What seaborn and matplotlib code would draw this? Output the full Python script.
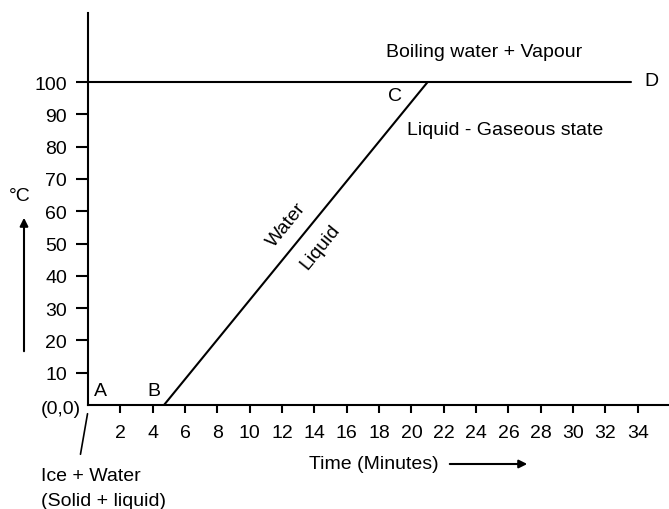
import matplotlib.pyplot as plt
import pandas as pd
import seaborn as sns

# heating curve of water: liquid segment (B -> C) and boiling segment (C -> D)
liquid_time = [4.7, 21.0]
liquid_temp = [0, 100]
boil_time = [0, 33.6]
boil_temp = [100, 100]

x_ticks = list(range(2, 35, 2))
y_ticks = list(range(10, 101, 10))

sns.set_theme(style="ticks")
plt.rcParams["font.family"] = ["Liberation Sans", "DejaVu Sans"]
plt.rcParams["font.size"] = 14
plt.rcParams["text.color"] = "black"

fig = plt.figure(figsize=(6.69, 5.10), dpi=100)
ax = fig.add_axes([88 / 669, 104 / 510, 581 / 669, 392 / 510])

liquid = pd.DataFrame({"time": liquid_time, "temp": liquid_temp})
boil = pd.DataFrame({"time": boil_time, "temp": boil_temp})
sns.lineplot(data=liquid, x="time", y="temp", color="black", lw=1.5, ax=ax)
sns.lineplot(data=boil, x="time", y="temp", color="black", lw=1.5, ax=ax)

ax.set_xlim(0, 35.93)
ax.set_ylim(0, 121.4)
ax.set_xticks(x_ticks)
ax.set_yticks(y_ticks)
ax.set_xlabel("")
ax.set_ylabel("")
ax.tick_params(axis="x", length=6, width=1.5, pad=8, labelsize=14, colors="black")
ax.tick_params(axis="y", length=9, width=1.5, pad=6, labelsize=14, colors="black")
sns.despine(ax=ax)
for s in ["left", "bottom"]:
    ax.spines[s].set_linewidth(1.5)
    ax.spines[s].set_color("black")

# point labels and region notes
kw = dict(fontsize=14, color="black", va="center")
ax.text(0.74, 4.6, "A", ha="center", **kw)
ax.text(4.05, 4.6, "B", ha="center", **kw)
ax.text(19.0, 96, "C", ha="center", **kw)
ax.text(34.4, 100.5, "D", ha="left", **kw)
ax.text(-0.43, -1.2, "(0,0)", ha="right", clip_on=False, **kw)
ax.text(18.4, 109.6, "Boiling water + Vapour", ha="left", **kw)
ax.text(19.7, 85.4, "Liquid - Gaseous state", ha="left", **kw)
ax.text(12.3, 56.0, "Water", ha="center", rotation=51, rotation_mode="anchor", **kw)
ax.text(14.35, 49.2, "Liquid", ha="center", rotation=51, rotation_mode="anchor", **kw)

# axis captions with arrows (figure pixels)
fig.text(20 / 669, 1 - 197 / 510, "°C", ha="center", va="center", fontsize=14)
ax.annotate("", xy=(24, 510 - 216), xytext=(24, 510 - 355), xycoords="figure pixels",
            arrowprops=dict(arrowstyle="-|>", color="black", lw=1.5, mutation_scale=12))
fig.text(374 / 669, 1 - 465 / 510, "Time (Minutes)", ha="center", va="center", fontsize=14)
ax.annotate("", xy=(530, 510 - 465), xytext=(447, 510 - 465), xycoords="figure pixels",
            arrowprops=dict(arrowstyle="-|>", color="black", lw=1.5, mutation_scale=12))

ax.annotate("", xy=(88, 510 - 412), xytext=(80, 510 - 458), xycoords="figure pixels",
            arrowprops=dict(arrowstyle="-", color="black", lw=1.2))
fig.text(41 / 669, 1 - 477 / 510, "Ice + Water", ha="left", va="center", fontsize=14)
fig.text(41 / 669, 1 - 502 / 510, "(Solid + liquid)", ha="left", va="center", fontsize=14)

fig.savefig("out.png", dpi=100)
